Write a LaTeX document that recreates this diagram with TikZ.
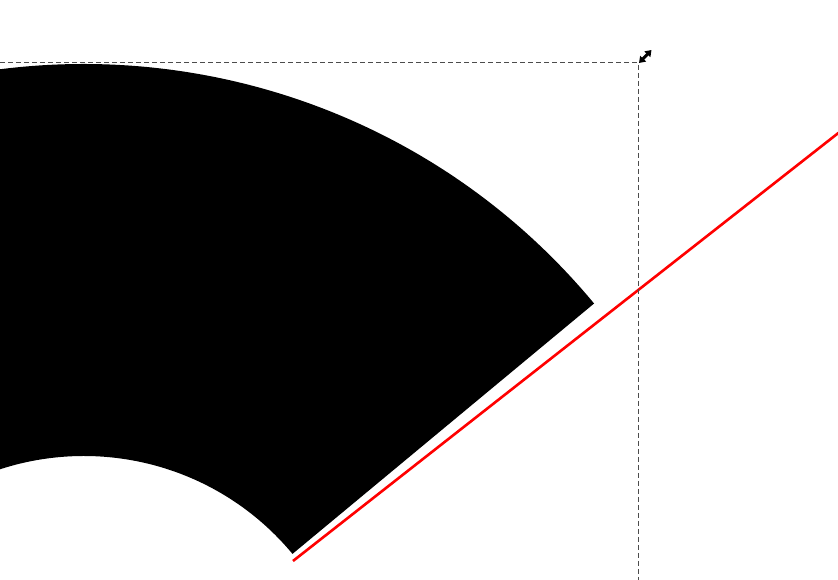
\documentclass[tikz,border=0pt]{standalone}
\usepackage{tikz}
\usetikzlibrary{arrows.meta,calc}

\begin{document}
\begin{tikzpicture}[x=1pt,y=1pt,>=Latex]
\useasboundingbox (0,0) rectangle (838,580);
\clip (0,0) rectangle (838,580);
\coordinate (c) at (84,-147);
\fill[black] ($(c)+(39.7:271)$) -- ($(c)+(39.7:663)$) arc[start angle=39.7,end angle=125,radius=663] -- ($(c)+(125:271)$) arc[start angle=125,end angle=39.7,radius=271] -- cycle;
\coordinate (r0) at (293,19);
\coordinate (r1) at (860,464);
\draw[red,line width=2.6pt] (r0)--(r1);
\draw[black!70,line width=1pt,dash pattern=on 5pt off 3pt] (0,517)--(638,517)--(638,0);
\draw[line width=3pt,{Triangle[length=6pt,width=8pt]}-{Triangle[length=6pt,width=8pt]}] (639,517)--(651.5,530);
\end{tikzpicture}
\end{document}
